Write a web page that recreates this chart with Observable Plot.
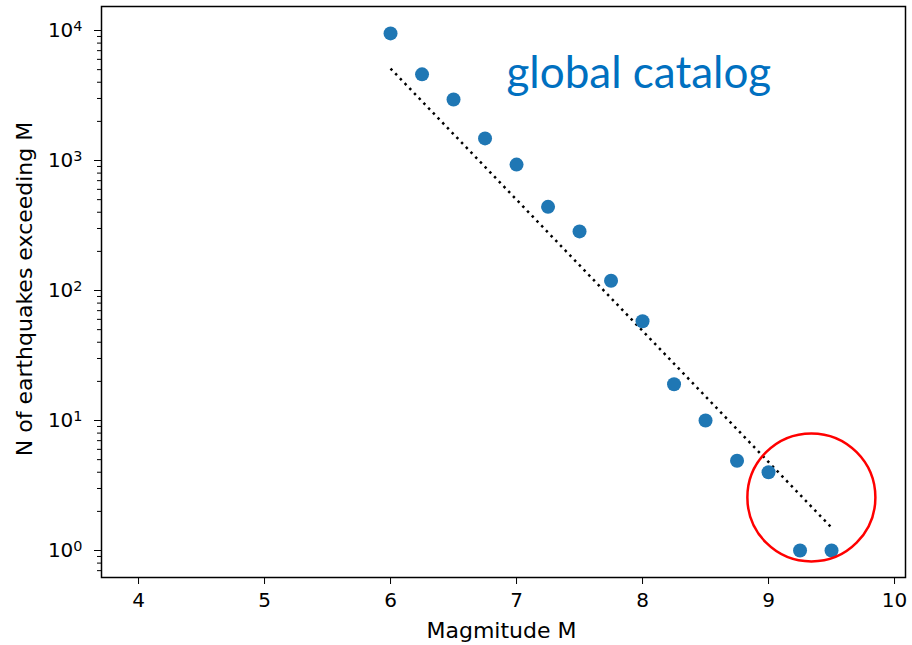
<!DOCTYPE html>
<html>
<head>
<meta charset="utf-8">
<script src="https://cdn.jsdelivr.net/npm/d3@7"></script>
<script src="https://cdn.jsdelivr.net/npm/@observablehq/plot@0.6"></script>
<style>
  html, body { margin: 0; padding: 0; background: #fff; }
  #chart { width: 912px; height: 645px; }
</style>
</head>
<body>
<div id="chart"></div>
<script>
// Data
const magnitudes = [6, 6.25, 6.5, 6.75, 7, 7.25, 7.5, 7.75, 8, 8.25, 8.5, 8.75, 9, 9.25, 9.5];
const counts     = [9500, 4600, 2950, 1480, 930, 440, 285, 119, 58, 19, 10, 4.9, 4, 1, 1];
const fitM = [6, 9.5];
const fitN = [5100, 1.5];
const circleCenter = [{m: 9.34, n: 2.56}];
const xTicks = [4, 5, 6, 7, 8, 9, 10];
const yTicks = [1, 10, 100, 1000, 10000];
const yTickExponents = ["0", "1", "2", "3", "4"];
const yMinorTicks = [0.7, 0.8, 0.9, 2, 3, 4, 5, 6, 7, 8, 9, 20, 30, 40, 50, 60, 70, 80, 90,
  200, 300, 400, 500, 600, 700, 800, 900, 2000, 3000, 4000, 5000, 6000, 7000, 8000, 9000];
const annotation = "global catalog";
const xLabel = "Magmitude M";
const yLabel = "N of earthquakes exceeding M";

const points = magnitudes.map((m, i) => ({m, n: counts[i]}));
const fit = fitM.map((m, i) => ({m, n: fitN[i]}));

const chart = Plot.plot({
  width: 912,
  height: 645,
  marginLeft: 101,
  marginRight: 7,
  marginTop: 6,
  marginBottom: 68,
  style: {fontFamily: "DejaVu Sans", fontSize: "20px", background: "#fff", color: "#000"},
  x: {domain: [3.706, 10.087]},
  y: {type: "log", domain: [0.62, 15300]},
  marks: [
    Plot.frame({stroke: "#000", strokeWidth: 1.5}),
    Plot.axisX({ticks: xTicks, tickSize: 7, tickPadding: 8, tickFormat: d => String(d), fontSize: 20, label: null}),
    Plot.axisY({ticks: yTicks, tickSize: 7, tickPadding: 12, tickFormat: d => "10^" + yTickExponents[yTicks.indexOf(d)], fontSize: 20, label: null}),
    Plot.axisY({ticks: yMinorTicks, tickSize: 4, tickFormat: () => "", label: null}),
    Plot.text([xLabel], {frameAnchor: "bottom", text: d => d, dy: 53, dx: -2, lineAnchor: "middle", fontSize: 22}),
    Plot.text([yLabel], {frameAnchor: "left", text: d => d, textAnchor: "middle", dx: -77, dy: -3, rotate: -90, lineAnchor: "middle", fontSize: 22}),
    Plot.line(fit, {x: "m", y: "n", stroke: "#000", strokeWidth: 2.5, strokeDasharray: "2.5,4.3", strokeLinecap: "butt"}),
    Plot.dot(points, {x: "m", y: "n", r: 7, fill: "#1f77b4", stroke: "none"}),
    Plot.dot(circleCenter, {x: "m", y: "n", r: 64, stroke: "#ff0000", strokeWidth: 2.5, fill: "none"}),
    Plot.text([annotation], {x: 6.92, y: 3643, text: d => d, textAnchor: "start",
      lineAnchor: "bottom", fill: "#0070c0", fontSize: 44, fontFamily: "Lato"})
  ]
});
// Render "10^n" tick labels with a real superscript, as matplotlib does
d3.select(chart).selectAll("text").each(function () {
  const t = this.textContent;
  const m = /^10\^(\d)$/.exec(t);
  if (m) {
    const sel = d3.select(this);
    sel.text("10");
    sel.append("tspan").attr("dy", "-0.42em").attr("font-size", "0.72em").text(m[1]);
  }
});
document.getElementById("chart").appendChild(chart);
</script>
</body>
</html>
